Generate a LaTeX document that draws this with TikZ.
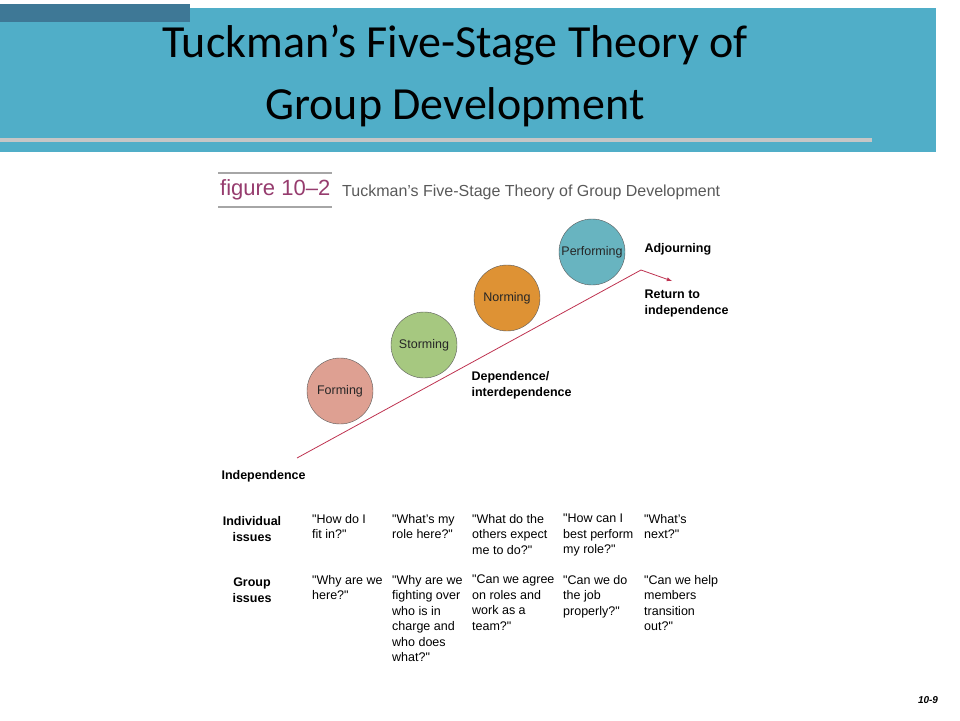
\documentclass[tikz,border=0pt]{standalone}
\usepackage{fontspec}
\setmainfont{Liberation Sans}
\newfontfamily\titlefont{Carlito}
\usetikzlibrary{positioning}
\definecolor{bandteal}{RGB}{80, 174, 200}
\definecolor{bardark}{RGB}{62, 120, 150}
\definecolor{formcol}{RGB}{222, 160, 146}
\definecolor{stormcol}{RGB}{166, 200, 128}
\definecolor{normcol}{RGB}{222, 146, 52}
\definecolor{perfcol}{RGB}{104, 180, 192}
\definecolor{linered}{RGB}{190, 50, 80}
\definecolor{figpurple}{RGB}{150, 60, 110}
\newcommand\qq{\textquotedbl}

\tikzset{
  stage/.style={circle, draw=gray!70!black, minimum size=66pt, inner sep=0pt, font=\fontsize{12.5}{14}\selectfont, text=black!85},
  phase/.style={anchor=west, align=left, font=\bfseries\fontsize{12.5}{16}\selectfont},
  rowhead/.style={align=center, font=\bfseries\fontsize{12.5}{16}\selectfont},
  issue/.style={anchor=north west, align=left, inner sep=0pt, font=\fontsize{12.5}{15.5}\selectfont}
}

\begin{document}
\begin{tikzpicture}[x=1pt, y=-1pt]
            \useasboundingbox (0,0) rectangle (960,720);
            % Title band
            \fill[bandteal] (0,8) rectangle (936,152);
            \fill[bardark]  (0,4) rectangle (190,22);
            \fill[gray!45]  (0,138) rectangle (872,142);
            \node[font=\titlefont\fontsize{46}{62}\selectfont, align=center] (title) at (455,76)
                 {Tuckman’s Five-Stage Theory of\\Group Development};
            % Figure caption
            \node[anchor=west, inner sep=0pt, text=figpurple, font=\fontsize{22}{24}\selectfont] (fignum) at (220,190) {figure 10–2};
            \node[anchor=west, inner sep=0pt, text=black!65, font=\fontsize{16}{18}\selectfont] (figtext) at (342,192)
                 {Tuckman’s Five-Stage Theory of Group Development};
            \draw[gray!70, line width=1.5pt] (218,173) -- (332,173);
            \draw[gray!70, line width=1.5pt] (218,207) -- (332,207);
            % Stages
            \node[stage, fill=formcol]  (forming)    at (340,391) {Forming};
            \node[stage, fill=stormcol] (storming)   at (424,345) {Storming};
            \node[stage, fill=normcol]  (norming)    at (507,298) {Norming};
            \node[stage, fill=perfcol]  (performing) at (592,252) {Performing};
            % Development line
            \coordinate (start) at (297,458);
            \coordinate (peak)  at (641,270);
            \coordinate (tip)   at (672,281);
            \draw[linered, thick] (start) -- (peak);
            \draw[linered, thick, -latex] (peak) -- (tip);
            % Phase labels
            \node[phase] (adjourn) at (641,249) {Adjourning};
            \node[phase] (return)  at (641,303) {Return to\\independence};
            \node[phase] (depend)  at (468,385) {Dependence/\\interdependence};
            \node[phase] (indep)   at (218,476) {Independence};
            % Issues table
            \node[rowhead] (indiv) at (252,529) {Individual\\issues};
            \node[rowhead] (group) at (252,590) {Group\\issues};
            \node[issue] (i1) at (312,514) {\qq How do I\\fit in?\qq};
            \node[issue] (i2) at (392,514) {\qq What's my\\role here?\qq};
            \node[issue] (i3) at (472,514) {\qq What do the\\others expect\\me to do?\qq};
            \node[issue] (i4) at (563,514) {\qq How can I\\best perform\\my role?\qq};
            \node[issue] (i5) at (644,514) {\qq What's\\next?\qq};
            \node[issue] (g1) at (312,575) {\qq Why are we\\here?\qq};
            \node[issue] (g2) at (392,575) {\qq Why are we\\fighting over\\who is in\\charge and\\who does\\what?\qq};
            \node[issue] (g3) at (472,575) {\qq Can we agree\\on roles and\\work as a\\team?\qq};
            \node[issue] (g4) at (563,575) {\qq Can we do\\the job\\properly?\qq};
            \node[issue] (g5) at (644,575) {\qq Can we help\\members\\transition\\out?\qq};
            % Slide number
            \node[font=\bfseries\itshape\fontsize{10}{11}\selectfont] (slideno) at (928,700) {10-9};
\end{tikzpicture}
\end{document}
